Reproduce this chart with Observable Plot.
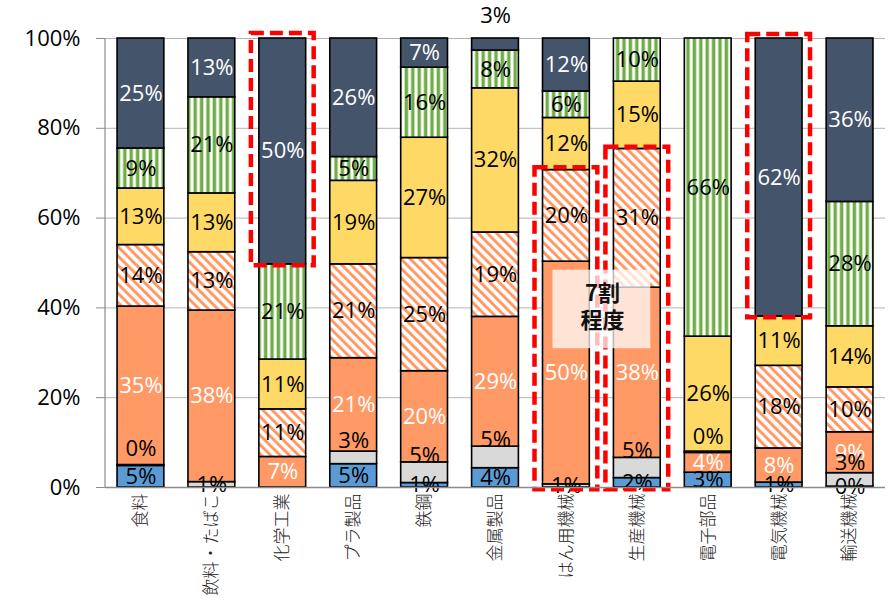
<!DOCTYPE html>
<html><head><meta charset="utf-8">
<script src="https://cdn.jsdelivr.net/npm/d3@7"></script>
<script src="https://cdn.jsdelivr.net/npm/@observablehq/plot@0.6"></script>
<style>html,body{margin:0;padding:0;background:#fff;} #chart{width:889px;height:605px;overflow:hidden}</style>
</head><body><div id="chart"></div>
<script>
// ---- data (bottom → top) ----
const categories = ["食料","飲料・たばこ","化学工業","プラ製品","鉄鋼","金属製品","はん用機械","生産機械","電子部品","電気機械","輸送機械"];
const seriesNames = ["青","灰","橙","橙斜線","黄","緑縦縞","紺"];
const blue   = [4.8, 0,    0,    5.2,  1.0,  4.3,  0,    2.1,  3.3,  1.1,  0.2];
const gray   = [0.2, 1.2,  0,    2.8,  4.6,  4.8,  0.7,  4.5,  0,    0,    3.0];
const orange = [35.3,38.2, 6.8,  20.8, 20.3, 28.9, 49.6, 37.9, 4.4,  7.6,  9.1];
const hatch  = [13.7,13.0, 10.6, 20.9, 25.2, 18.8, 20.4, 30.9, 0.3,  18.4, 10.0];
const yellow = [12.6,13.1, 11.1, 18.6, 26.8, 32.1, 11.6, 15.0, 25.6, 11.0, 13.6];
const green  = [8.9, 21.4, 21.2, 5.3,  15.6, 8.4,  5.9,  9.6,  66.4, 0,    27.7];
const navy   = [24.5,13.1, 50.3, 26.4, 6.5,  2.7,  11.8, 0,    0,    61.9, 36.4];
const yTicks = [0, 20, 40, 60, 80, 100];

// annotation (red dashed boxes, in % units)
const boxCats = ["化学工業","はん用機械","生産機械","電気機械"];
const boxLow  = [49.4, -0.5, -0.5, 37.8];
const boxHigh = [101.1, 71.2, 75.8, 100.9];
const noteText = "7割\n程度";
const noteCat = "はん用機械";
const noteLow = 30.9, noteHigh = 48.4, noteY = 40.4;

// ---- build stacked table ----
const seriesValues = [blue, gray, orange, hatch, yellow, green, navy];
const segs = [];
categories.forEach((cat, i) => {
  let acc = 0;
  seriesValues.forEach((arr, s) => {
    const v = arr[i];
    segs.push({cat, series: seriesNames[s], s, value: v, y1: acc, y2: acc + v, mid: acc + v / 2,
               label: Math.round(v) + "%", blueVal: blue[i]});
    acc += v;
  });
});
const shown = segs.filter(d => d.value > 0);
const boxes = boxCats.map((c, i) => ({cat: c, lo: boxLow[i], hi: boxHigh[i]}));

const whiteLabels = shown.filter(d => (d.s === 6 && d.value >= 4) || d.s === 2);
const blackCenter = shown.filter(d => d.s === 0 || d.s === 4 || d.s === 5 || (d.s === 3 && d.value >= 1) || (d.s === 1 && d.blueVal === 0));
const grayLifted = shown.filter(d => d.s === 1 && d.blueVal > 0);
const hatchSmall = shown.filter(d => d.s === 3 && d.value < 1);
const navySmall = shown.filter(d => d.s === 6 && d.value < 4);

const ns = "http://www.w3.org/2000/svg";
function defsMark() {
  const g = document.createElementNS(ns, "defs");
  g.innerHTML =
    `<pattern id="hatchPat" patternUnits="userSpaceOnUse" width="6.6" height="6.6" patternTransform="rotate(-45)">
       <rect width="6.6" height="6.6" fill="#ffffff"/><rect width="3" height="6.6" fill="#FF9966"/></pattern>
     <pattern id="stripePat" patternUnits="userSpaceOnUse" width="6.4" height="10">
       <rect width="6.4" height="10" fill="#ffffff"/><rect x="1.5" width="3.4" height="10" fill="#70AD47"/></pattern>`;
  return g;
}
function leftAxisLine(index, scales, values, dims) {
  const l = document.createElementNS(ns, "line");
  l.setAttribute("x1", dims.marginLeft); l.setAttribute("x2", dims.marginLeft);
  l.setAttribute("y1", dims.marginTop); l.setAttribute("y2", dims.height - dims.marginBottom);
  l.setAttribute("stroke", "#8c8c8c"); l.setAttribute("stroke-width", 1.2);
  return l;
}

const labelFont = {fontSize: 22, fontFamily: "Open Sans"};
const plot = Plot.plot({
  width: 889, height: 605,
  marginLeft: 105, marginRight: 4, marginTop: 38, marginBottom: 118,
  style: {fontFamily: "Open Sans", background: "white", overflow: "visible"},
  x: {domain: categories, paddingInner: 0.34, paddingOuter: 0.17, round: false, label: null, axis: null},
  y: {domain: [0, 100], axis: null, label: null},
  color: {domain: seriesNames, range: ["#5B9BD5","#D9D9D9","#FF9966","url(#hatchPat)","#FFD966","url(#stripePat)","#44546A"]},
  marks: [
    defsMark,
    Plot.gridY(yTicks, {stroke: "#b3b3b3", strokeOpacity: 1, strokeWidth: 1}),
    Plot.barY(shown, {x: "cat", y1: "y1", y2: "y2", fill: "series", stroke: "#000", strokeWidth: 1.6}),
    Plot.text(whiteLabels, {x: "cat", y: "mid", text: "label", fill: "white", ...labelFont}),
    Plot.text(blackCenter, {x: "cat", y: "mid", text: "label", fill: "black", ...labelFont}),
    Plot.text(grayLifted, {x: "cat", y: "mid", text: "label", fill: "black", dy: -17, ...labelFont}),
    Plot.text(hatchSmall, {x: "cat", y: "mid", text: "label", fill: "black", dy: -15, ...labelFont}),
    Plot.text(navySmall, {x: "cat", y: () => 100, text: "label", fill: "black", dy: -23, ...labelFont}),
    Plot.barY(boxes, {x: "cat", y1: "lo", y2: "hi", fill: "none", stroke: "#FF0000", strokeWidth: 4.5, strokeDasharray: "13,6", insetLeft: -8, insetRight: -8}),
    Plot.barY([noteCat], {x: d => d, y1: () => noteLow, y2: () => noteHigh, fill: "white", fillOpacity: 0.73, insetLeft: 10, insetRight: -61}),
    Plot.text([noteCat], {x: d => d, y: () => noteY, text: () => noteText, dx: 36, fontSize: 22, fontWeight: "bold", fontFamily: "Noto Sans CJK JP", fill: "#111", lineHeight: 1.2}),
    Plot.ruleY([0], {stroke: "#8c8c8c", strokeWidth: 1.5}),
    leftAxisLine,
    Plot.axisY(yTicks, {tickFormat: d => d + "%", tickSize: 9, tickPadding: 16, fontSize: 22, stroke: "#8c8c8c", fill: "black", label: null}),
    Plot.axisX({tickRotate: -90, tickSize: 0, tickPadding: 6, fontSize: 17, fontWeight: 300, fontFamily: "Noto Sans CJK JP", fill: "#222", label: null})
  ]
});
document.getElementById("chart").appendChild(plot);
</script>
</body></html>
